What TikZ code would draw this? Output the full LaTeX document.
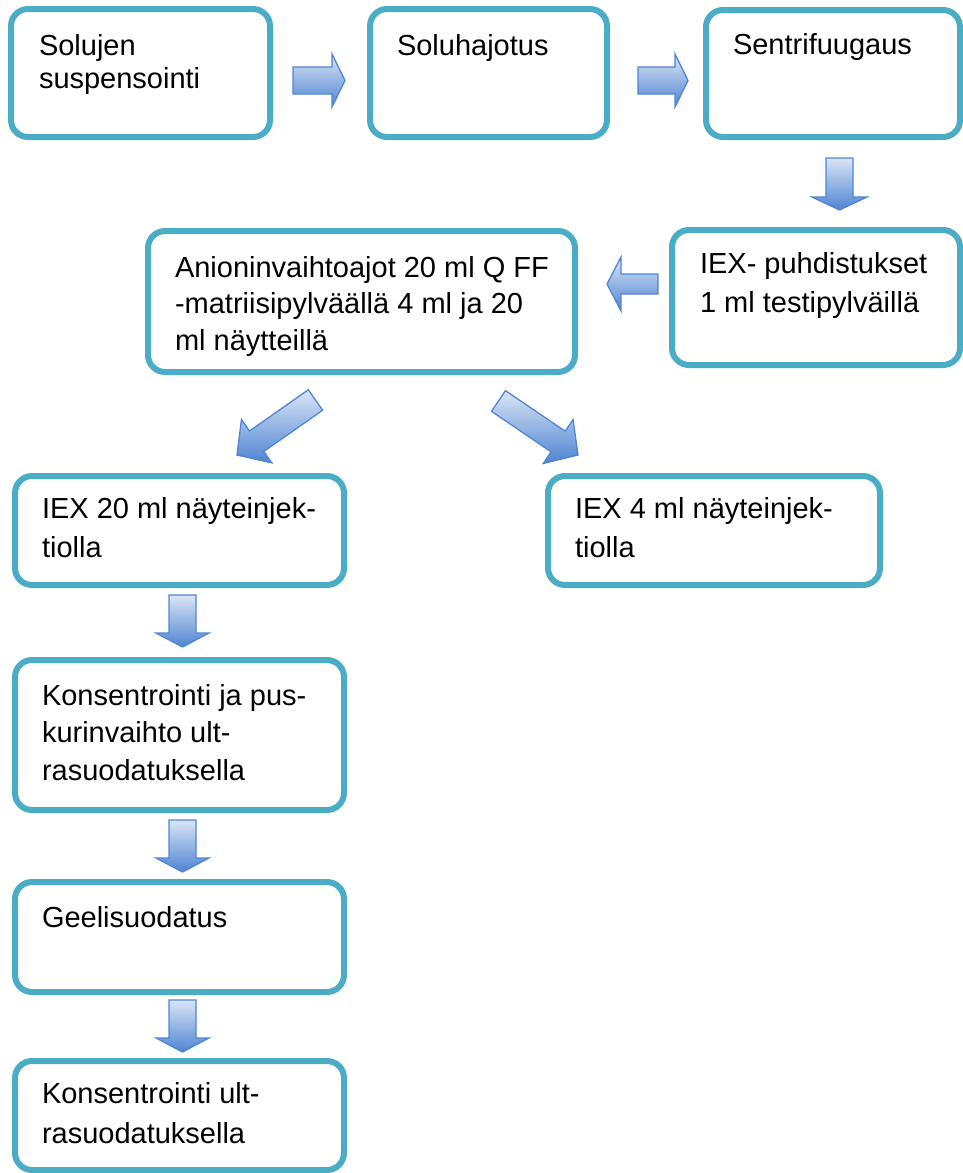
\documentclass[tikz,border=0pt]{standalone}
\usepackage{fontspec}
\setmainfont{Liberation Sans}
\usetikzlibrary{calc}
\definecolor{boxline}{HTML}{4BACC6}
\definecolor{arrline}{HTML}{4F86D4}
\definecolor{arrtop}{HTML}{DAE5F5}
\definecolor{arrbot}{HTML}{4F84D3}
\tikzset{
  flowbox/.style={draw=boxline, line width=6pt, rounded corners=17pt, fill=white,
    inner sep=0pt, outer sep=0pt},
  txt/.style={anchor=base west, inner sep=0pt, outer sep=0pt, align=left,
    font=\fontsize{29}{37}\selectfont},
  blockarrow/.style={draw=arrline, line width=1.3pt, line join=miter,
    top color=arrtop, bottom color=arrbot}
}
% #1 tail, #2 tip, #3 shaft half width, #4 head half width, #5 head length
\newcommand\blockarr[5]{%
  \coordinate (hb) at ($(#2)!#5!(#1)$);
  \path[blockarrow] ($(#1)!#3!90:(#2)$) -- ($(hb)!#3!-90:(#1)$) -- ($(hb)!#4!-90:(#1)$)
    -- (#2) -- ($(hb)!#4!90:(#1)$) -- ($(hb)!#3!90:(#1)$) -- ($(#1)!#3!-90:(#2)$) -- cycle;
}
\newcommand\ls[2]{\vtop{\baselineskip=#1pt\relax #2}}
\begin{document}
\begin{tikzpicture}[x=1pt,y=-1pt]
\useasboundingbox (0,0) rectangle (963,1173);
% boxes
\node[flowbox, minimum width=259pt, minimum height=128pt] (b1) at (140.5,73) {};
\node[flowbox, minimum width=237pt, minimum height=128pt] (b2) at (488.5,73) {};
\node[flowbox, minimum width=254pt, minimum height=127pt] (b3) at (833,73.5) {};
\node[flowbox, minimum width=288pt, minimum height=135pt] (b4) at (816,297.5) {};
\node[flowbox, minimum width=427pt, minimum height=141pt] (b5) at (361.5,301.5) {};
\node[flowbox, minimum width=329pt, minimum height=109pt] (b6) at (179.5,530.5) {};
\node[flowbox, minimum width=332pt, minimum height=109pt] (b7) at (714,530.5) {};
\node[flowbox, minimum width=329pt, minimum height=150pt] (b8) at (179.5,735) {};
\node[flowbox, minimum width=329pt, minimum height=110pt] (b9) at (179.5,937) {};
\node[flowbox, minimum width=329pt, minimum height=109pt] (b10) at (179.5,1115.5) {};
% texts
\node[txt] (t1) at (39,55) {\ls{33}{\hbox{Solujen}\hbox{suspensointi}}};
\node[txt] (t2) at (397,55) {Soluhajotus};
\node[txt] (t3) at (733,54) {Sentrifuugaus};
\node[txt] (t4) at (700,273) {\ls{39}{\hbox{IEX- puhdistukset}\hbox{1 ml testipylväillä}}};
\node[txt] (t5) at (175,277) {\ls{36.5}{\hbox{Anioninvaihtoajot 20 ml Q FF}\hbox{-matriisipylväällä 4 ml ja 20}\hbox{ml näytteillä}}};
\node[txt] (t6) at (42,518) {\ls{39}{\hbox{IEX 20 ml näyteinjek-}\hbox{tiolla}}};
\node[txt] (t7) at (575,518) {\ls{39}{\hbox{IEX 4 ml näyteinjek-}\hbox{tiolla}}};
\node[txt] (t8) at (42,705) {\ls{37.5}{\hbox{Konsentrointi ja pus-}\hbox{kurinvaihto ult-}\hbox{rasuodatuksella}}};
\node[txt] (t9) at (42,927) {Geelisuodatus};
\node[txt] (t10) at (42,1103) {\ls{40}{\hbox{Konsentrointi ult-}\hbox{rasuodatuksella}}};
% arrow end points
\coordinate (a1t) at (293,80.5);   \coordinate (a1p) at (345,80.5);
\coordinate (a2t) at (638,80.5);   \coordinate (a2p) at (688,80.5);
\coordinate (a3t) at (839.5,158);  \coordinate (a3p) at (839.5,210);
\coordinate (a4t) at (658,284);    \coordinate (a4p) at (607,284);
\coordinate (a5t) at (315.5,400);  \coordinate (a5p) at (237,455);
\coordinate (a6t) at (498.5,401);  \coordinate (a6p) at (578,455);
\coordinate (a7t) at (182.5,595);  \coordinate (a7p) at (182.5,647);
\coordinate (a8t) at (182.5,820);  \coordinate (a8p) at (182.5,872);
\coordinate (a9t) at (182.5,1000); \coordinate (a9p) at (182.5,1052);
\blockarr{a1t}{a1p}{13.5pt}{26.5pt}{13pt}
\blockarr{a2t}{a2p}{13.5pt}{26.5pt}{13pt}
\blockarr{a3t}{a3p}{13.5pt}{27.5pt}{13pt}
\blockarr{a4t}{a4p}{10pt}{27pt}{14pt}
\blockarr{a5t}{a5p}{12.5pt}{26.5pt}{24pt}
\blockarr{a6t}{a6p}{12.5pt}{26.5pt}{24pt}
\blockarr{a7t}{a7p}{13.5pt}{26.5pt}{14pt}
\blockarr{a8t}{a8p}{13.5pt}{26.5pt}{14pt}
\blockarr{a9t}{a9p}{13.5pt}{26.5pt}{14pt}
\end{tikzpicture}
\end{document}
